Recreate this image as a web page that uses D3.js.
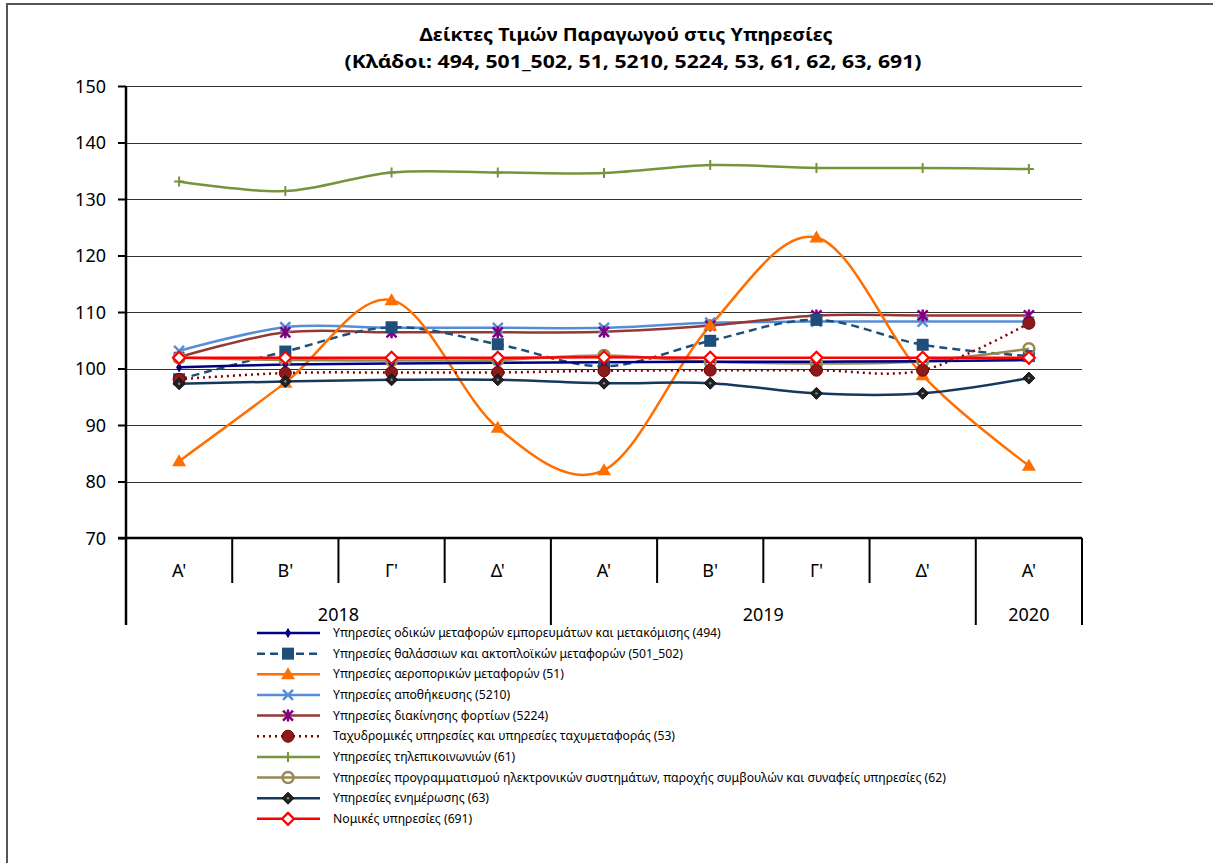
<!DOCTYPE html>
<html><head><meta charset="utf-8">
<script src="https://cdn.jsdelivr.net/npm/d3@7"></script>
<style>body{margin:0;background:#fff}svg{display:block}text{font-family:"Noto Sans",sans-serif}</style>
</head><body>
<svg id="c" width="1213" height="863"></svg>
<script>
const quarters = ["Α'","Β'","Γ'","Δ'","Α'","Β'","Γ'","Δ'","Α'"];
const years = [{label:"2018", from:0, to:4},{label:"2019", from:4, to:8},{label:"2020", from:8, to:9}];
const yTicks = [70,80,90,100,110,120,130,140,150];

const s494     = [100.2,100.7,100.9,101.0,101.1,101.2,101.2,101.3,101.5];
const s501_502 = [98.1,103.0,107.3,104.3,100.4,104.9,108.6,104.2,102.2];
const s51      = [83.6,97.5,112.1,89.5,82.0,107.6,123.2,98.8,82.8];
const s5210    = [103.1,107.3,107.2,107.2,107.2,108.1,108.3,108.3,108.3];
const s5224    = [102.0,106.4,106.4,106.4,106.5,107.6,109.4,109.4,109.4];
const s53      = [98.1,99.2,99.3,99.3,99.6,99.7,99.7,99.7,108.0];
const s61      = [133.1,131.4,134.7,134.7,134.6,136.0,135.5,135.5,135.3];
const s62      = [101.9,101.5,101.4,101.5,102.3,101.2,100.9,101.3,103.5];
const s63      = [97.3,97.7,98.0,98.0,97.4,97.4,95.6,95.6,98.3];
const s691     = [101.9,101.9,101.9,101.9,102.0,101.9,101.9,101.9,101.9];

const names = [
 "Υπηρεσίες οδικών μεταφορών εμπορευμάτων και μετακόμισης (494)",
 "Υπηρεσίες θαλάσσιων και ακτοπλοϊκών μεταφορών (501_502)",
 "Υπηρεσίες αεροπορικών μεταφορών (51)",
 "Υπηρεσίες αποθήκευσης (5210)",
 "Υπηρεσίες διακίνησης φορτίων (5224)",
 "Ταχυδρομικές υπηρεσίες και υπηρεσίες ταχυμεταφοράς (53)",
 "Υπηρεσίες τηλεπικοινωνιών (61)",
 "Υπηρεσίες προγραμματισμού ηλεκτρονικών συστημάτων, παροχής συμβουλών και συναφείς υπηρεσίες (62)",
 "Υπηρεσίες ενημέρωσης (63)",
 "Νομικές υπηρεσίες (691)"
];

const series = [
 {name:names[0], v:s494, color:"#000080", width:2.5, dash:null, marker:"diamondSmall", mfill:"#000080", mstroke:"#000080"},
 {name:names[1], v:s501_502, color:"#1F4E79", width:2.5, dash:"8,5", marker:"square", mfill:"#1F4E79", mstroke:"#1F4E79"},
 {name:names[2], v:s51, color:"#FF6F00", width:2.5, dash:null, marker:"triangle", mfill:"#FF6F00", mstroke:"#FF6F00"},
 {name:names[3], v:s5210, color:"#558ED5", width:2.5, dash:null, marker:"x", mfill:"none", mstroke:"#558ED5"},
 {name:names[4], v:s5224, color:"#953735", width:2.5, dash:null, marker:"star", mfill:"none", mstroke:"#7F007F"},
 {name:names[5], v:s53, color:"#800000", width:2.5, dash:"2,4", marker:"circle", mfill:"#8B1A1A", mstroke:"#7A0000"},
 {name:names[6], v:s61, color:"#77933C", width:2.5, dash:null, marker:"plus", mfill:"none", mstroke:"#77933C"},
 {name:names[7], v:s62, color:"#948A54", width:2.5, dash:null, marker:"ring", mfill:"#fff", mstroke:"#948A54"},
 {name:names[8], v:s63, color:"#17375E", width:2.5, dash:null, marker:"diamond", mfill:"#222", mstroke:"#111"},
 {name:names[9], v:s691, color:"#FF0000", width:2.5, dash:null, marker:"diamondOpen", mfill:"#fff", mstroke:"#FF0000"}
];

const svg = d3.select("#c");
const L = 126, R = 1082, T = 86, B = 538;
const x = d3.scaleBand().domain(d3.range(quarters.length)).range([L, R]).padding(0);
const y = d3.scaleLinear().domain([70,150]).range([B, T]);
const cx = i => x(i) + x.bandwidth()/2;

// outer frame
svg.append("path").attr("d", "M7,863V4H1213").attr("fill","none").attr("stroke","#555").attr("stroke-width",2);

// title
svg.append("text").attr("x",626).attr("y",41).attr("text-anchor","middle").attr("font-size",18.5).attr("font-weight","bold")
  .attr("textLength",413).attr("lengthAdjust","spacingAndGlyphs")
  .text("Δείκτες Τιμών Παραγωγού στις Υπηρεσίες");
svg.append("text").attr("x",633).attr("y",68).attr("text-anchor","middle").attr("font-size",18.5).attr("font-weight","bold")
  .attr("textLength",577).attr("lengthAdjust","spacingAndGlyphs")
  .text("(Κλάδοι: 494, 501_502, 51, 5210, 5224, 53, 61, 62, 63, 691)");

// gridlines
svg.append("g").selectAll("line").data(yTicks.filter(d=>d>70)).join("line")
  .attr("x1",L).attr("x2",R).attr("y1",d=>Math.round(y(d))+0.5).attr("y2",d=>Math.round(y(d))+0.5)
  .attr("stroke","#333").attr("stroke-width",1);

// y axis
const ya = svg.append("g").attr("transform",`translate(${L},0)`)
  .call(d3.axisLeft(y).tickValues(yTicks).tickSize(8).tickPadding(12));
ya.select(".domain").remove();
ya.selectAll("line").attr("stroke","#000").attr("stroke-width",2);
ya.selectAll("text").attr("font-size",18).attr("font-family","Noto Sans").attr("fill","#000").attr("dy","0.35em");
svg.append("line").attr("x1",L).attr("x2",L).attr("y1",T).attr("y2",625).attr("stroke","#000").attr("stroke-width",2.5);

// x axis line
svg.append("line").attr("x1",L-8).attr("x2",R).attr("y1",B).attr("y2",B).attr("stroke","#000").attr("stroke-width",2.5);
// category separators
const seps = d3.range(1, quarters.length+1);
const yearBounds = new Set(years.map(d=>d.to));
svg.append("g").selectAll("line").data(seps).join("line")
  .attr("x1",i=>x(i-1)+x.bandwidth()).attr("x2",i=>x(i-1)+x.bandwidth())
  .attr("y1",B).attr("y2",i=>yearBounds.has(i)?625:583)
  .attr("stroke","#000").attr("stroke-width",2);
svg.append("g").selectAll("text").data(quarters).join("text")
  .attr("x",(d,i)=>cx(i)).attr("y",577).attr("text-anchor","middle").attr("font-size",18).text(d=>d);
svg.append("g").selectAll("text").data(years).join("text")
  .attr("x",d=>(x(d.from)+x(d.to-1)+x.bandwidth())/2).attr("y",621).attr("text-anchor","middle").attr("font-size",18).text(d=>d.label);

// markers
function drawMarker(g, type, fill, stroke){
  switch(type){
    case "diamondSmall": g.append("path").attr("d",d3.symbol(d3.symbolDiamond, 22)()).attr("fill",fill).attr("stroke",stroke); break;
    case "square": g.append("rect").attr("x",-6).attr("y",-6).attr("width",12).attr("height",12).attr("fill",fill); break;
    case "triangle": g.append("path").attr("d","M0,-7L7,5H-7Z").attr("fill",fill); break;
    case "x": g.append("path").attr("d","M-5,-5L5,5M-5,5L5,-5").attr("stroke",stroke).attr("stroke-width",2.5); break;
    case "star": g.append("path").attr("d","M-5,-5L5,5M-5,5L5,-5M0,-6V6").attr("stroke",stroke).attr("stroke-width",2.5); break;
    case "circle": g.append("circle").attr("r",6).attr("fill",fill).attr("stroke",stroke); break;
    case "plus": g.append("path").attr("d","M-5,0H5M0,-5V5").attr("stroke",stroke).attr("stroke-width",2); break;
    case "ring": g.append("circle").attr("r",5.5).attr("fill","none").attr("stroke",stroke).attr("stroke-width",2.5); break;
    case "diamond": g.append("path").attr("d","M0,-6L6,0L0,6L-6,0Z").attr("fill",fill).attr("stroke",stroke).attr("stroke-width",1); g.append("circle").attr("r",1.2).attr("fill","#888"); break;
    case "diamondOpen": g.append("path").attr("d","M0,-6L6,0L0,6L-6,0Z").attr("fill",fill).attr("stroke",stroke).attr("stroke-width",2.2); break;
  }
}

const line = d3.line().x((d,i)=>cx(i)).y(d=>y(d)).curve(d3.curveCatmullRom.alpha(0));
const order = [6,3,4,1,2,7,0,5,8,9];
const plot = svg.append("g");
order.forEach(k=>{
  const s = series[k];
  plot.append("path").datum(s.v).attr("d",line).attr("fill","none").attr("stroke",s.color)
    .attr("stroke-width",s.width).attr("stroke-dasharray",s.dash);
});
order.forEach(k=>{
  const s = series[k];
  s.v.forEach((v,i)=>{
    const g = plot.append("g").attr("transform",`translate(${cx(i)},${y(v)})`);
    drawMarker(g, s.marker, s.mfill, s.mstroke);
  });
});

// legend
const lg = svg.append("g");
series.forEach((s,k)=>{
  const yy = 633 + k*20.65;
  lg.append("line").attr("x1",257).attr("x2",320).attr("y1",yy).attr("y2",yy).attr("stroke",s.color)
    .attr("stroke-width",s.width).attr("stroke-dasharray",s.dash);
  const g = lg.append("g").attr("transform",`translate(288,${yy})`);
  drawMarker(g, s.marker, s.mfill, s.mstroke);
  lg.append("text").attr("x",333).attr("y",yy+4).attr("font-size",12.2).text(s.name);
});
</script>
</body></html>
